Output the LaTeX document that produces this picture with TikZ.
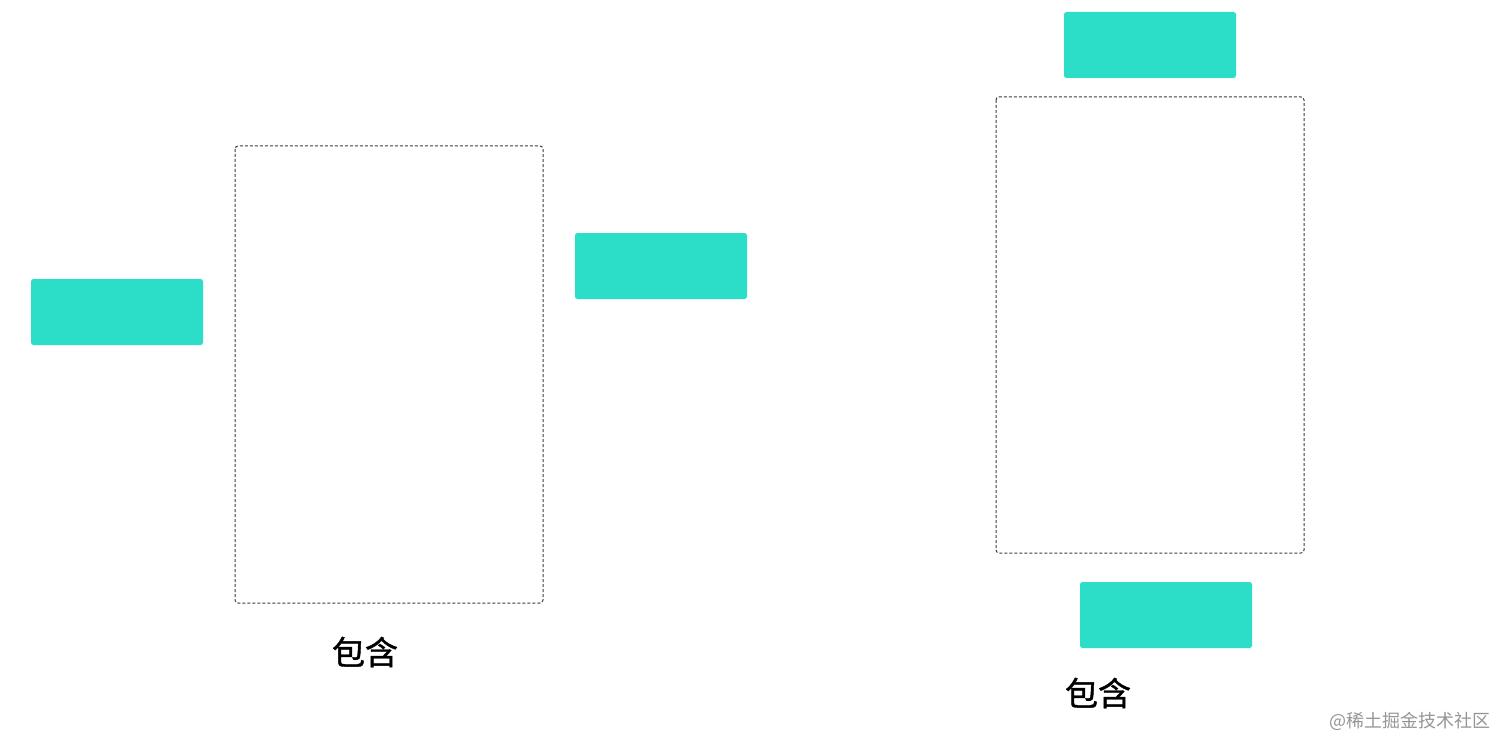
\documentclass[tikz,border=0pt]{standalone}
\usepackage{fontspec}
\newfontfamily\cjk{Noto Sans CJK SC}
\newfontfamily\cjkb[FakeBold=1.2]{Noto Sans CJK SC}
\definecolor{teal1}{RGB}{44,222,199}
\definecolor{dashgray}{RGB}{60,60,60}
\definecolor{wmgray}{RGB}{150,150,150}
\tikzset{
  tealbox/.style={fill=teal1, draw=none, rounded corners=2.5pt},
  dashbox/.style={draw=dashgray, line width=1pt, dash pattern=on 3pt off 2pt, rounded corners=3pt},
  label/.style={font=\cjkb\fontsize{33}{33}\selectfont, text=black, inner sep=0pt},
}
\begin{document}
\begin{tikzpicture}[x=1pt,y=-1pt]
\useasboundingbox (0,0) rectangle (1512,754);
\fill[white] (0,0) rectangle (1512,754);
% left group
\path[tealbox] (31,279) rectangle (203,345);
\draw[dashbox] (235,146) rectangle (543,603);
\path[tealbox] (575,233) rectangle (747,299);
\node[label] (t1) at (365,652) {包含};
% right group
\path[tealbox] (1064,12) rectangle (1236,78);
\draw[dashbox] (996,97) rectangle (1304,553);
\path[tealbox] (1080,582) rectangle (1252,648);
\node[label] (t2) at (1098,693) {包含};
% watermark
\node[font=\cjk\fontsize{18}{18}\selectfont, text=wmgray, anchor=east, inner sep=0pt] (wm) at (1491,721) {@稀土掘金技术社区};
\end{tikzpicture}
\end{document}
